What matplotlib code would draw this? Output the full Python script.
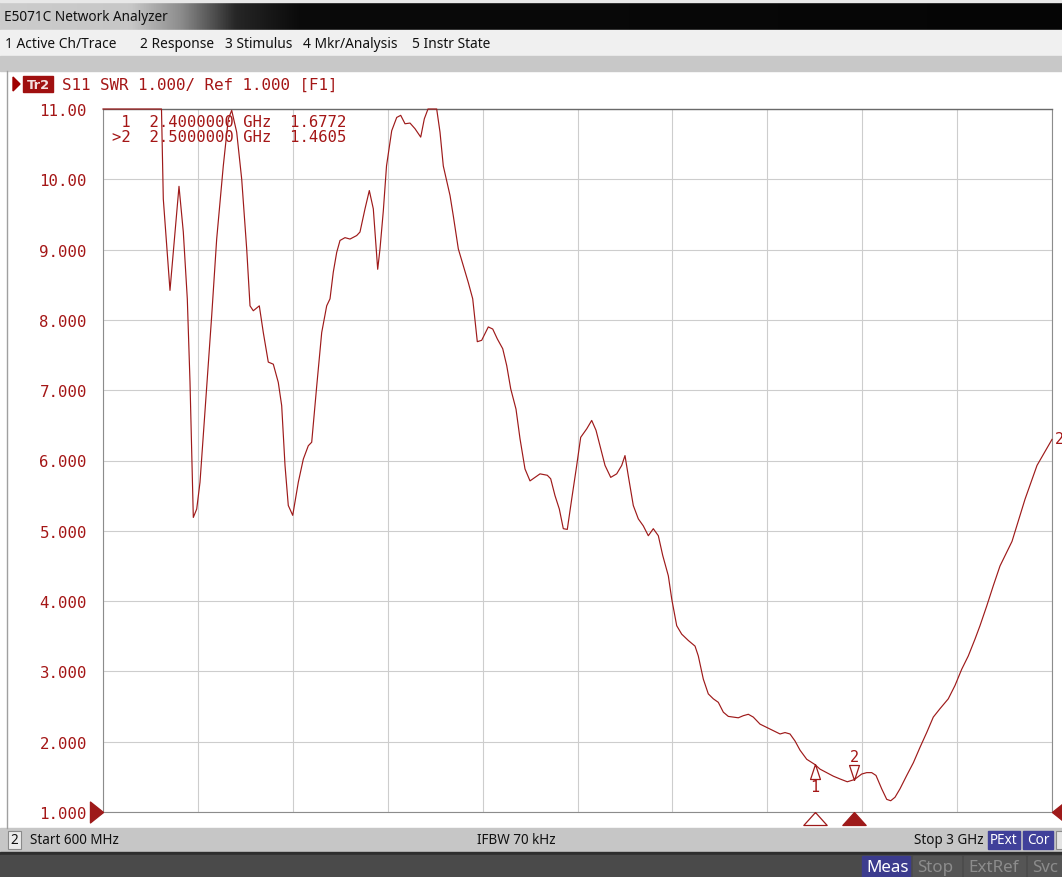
import matplotlib
matplotlib.use("Agg")
import matplotlib.pyplot as plt
import numpy as np
from matplotlib.patches import Rectangle, Polygon

W, H = 1062, 878
DARK_RED = '#9e1a1a'
TEXT_RED = '#a41616'
MONO = 'DejaVu Sans Mono'
UI = 'Noto Sans'

# S11 SWR trace (MHz, SWR); values > 11 are clipped on the display
freq_mhz = [600.0, 668.3, 739.1, 747.9, 752.5, 769.4, 792.2, 803.1, 813.2, 820.0,
            828.4, 837.0, 845.3, 862.3, 874.9, 887.5, 904.2, 916.9, 925.5, 938.1,
            950.8, 963.4, 971.8, 980.1, 995.3, 1005.4, 1018.0, 1030.7, 1043.3, 1051.9,
            1060.3, 1068.6, 1079.8, 1093.9, 1106.6, 1119.2, 1127.8, 1140.5, 1153.1, 1165.7,
            1174.1, 1182.4, 1191.0, 1199.4, 1212.0, 1224.7, 1241.6, 1249.9, 1262.6, 1273.5,
            1283.6, 1294.7, 1300.5, 1308.9, 1317.0, 1330.1, 1342.8, 1352.9, 1363.8, 1376.4,
            1389.0, 1403.5, 1412.6, 1421.9, 1437.1, 1443.9, 1452.3, 1460.6, 1477.6, 1485.9,
            1498.6, 1511.2, 1523.9, 1535.0, 1546.6, 1557.7, 1574.4, 1585.6, 1597.2, 1610.9,
            1621.0, 1631.1, 1644.5, 1654.6, 1667.2, 1679.9, 1692.5, 1705.2, 1723.6, 1732.2,
            1743.1, 1754.0, 1764.1, 1774.2, 1785.3, 1798.0, 1808.1, 1823.3, 1835.9, 1846.8,
            1856.9, 1869.6, 1884.0, 1899.1, 1911.8, 1920.1, 1928.5, 1941.1, 1953.8, 1966.4,
            1979.1, 1991.7, 2004.4, 2015.5, 2029.7, 2038.3, 2050.9, 2063.5, 2080.2, 2097.2,
            2105.5, 2118.2, 2130.8, 2143.5, 2156.1, 2168.8, 2181.4, 2206.7, 2219.3, 2232.0,
            2244.6, 2261.6, 2286.9, 2312.2, 2324.8, 2337.4, 2350.1, 2362.7, 2379.7, 2400.0,
            2413.3, 2430.2, 2446.9, 2463.9, 2482.3, 2500.0, 2518.7, 2531.4, 2544.0, 2554.9,
            2569.3, 2582.0, 2592.1, 2603.0, 2615.6, 2632.6, 2649.3, 2666.2, 2683.1, 2699.8,
            2716.8, 2737.7, 2754.7, 2771.6, 2788.3, 2805.3, 2817.9, 2834.9, 2851.6, 2868.5,
            2898.9, 2931.8, 2962.1, 3000.0]
swr = [12.0, 12.5, 11.5, 11.0, 9.72, 8.42, 9.90, 9.25, 8.30, 7.12,
       5.19, 5.31, 5.69, 7.06, 8.06, 9.15, 10.19, 10.86, 10.98, 10.67,
       10.00, 9.01, 8.20, 8.13, 8.20, 7.82, 7.40, 7.37, 7.11, 6.78,
       5.93, 5.36, 5.22, 5.69, 6.02, 6.21, 6.26, 7.06, 7.82, 8.20,
       8.30, 8.68, 8.96, 9.13, 9.17, 9.15, 9.20, 9.25, 9.58, 9.84,
       9.58, 8.72, 9.01, 9.55, 10.19, 10.69, 10.88, 10.91, 10.79, 10.80,
       10.72, 10.60, 10.86, 11.3, 11.3, 11.0, 10.67, 10.19, 9.77, 9.48,
       9.01, 8.77, 8.53, 8.30, 7.69, 7.71, 7.90, 7.87, 7.73, 7.59,
       7.35, 7.02, 6.73, 6.31, 5.88, 5.71, 5.76, 5.81, 5.79, 5.74,
       5.50, 5.31, 5.03, 5.02, 5.45, 5.93, 6.33, 6.45, 6.57, 6.43,
       6.21, 5.93, 5.76, 5.81, 5.93, 6.07, 5.78, 5.36, 5.17, 5.07,
       4.93, 5.03, 4.93, 4.65, 4.36, 4.03, 3.65, 3.53, 3.44, 3.36,
       3.22, 2.89, 2.68, 2.61, 2.56, 2.42, 2.36, 2.34, 2.37, 2.39,
       2.35, 2.25, 2.18, 2.11, 2.13, 2.11, 2.01, 1.88, 1.75, 1.677,
       1.61, 1.56, 1.51, 1.47, 1.43, 1.4605, 1.54, 1.56, 1.56, 1.52,
       1.33, 1.18, 1.16, 1.21, 1.33, 1.52, 1.70, 1.92, 2.13, 2.35,
       2.47, 2.61, 2.80, 3.03, 3.22, 3.46, 3.65, 3.93, 4.22, 4.50,
       4.85, 5.45, 5.93, 6.30]

marker_ids = ['1', '2']
marker_freq_mhz = [2400.0, 2500.0]
marker_swr = [1.6772, 1.4605]
active_marker = '2'

start_mhz, stop_mhz = 600.0, 3000.0
ref_value = 1.0
y_ticks = [1, 2, 3, 4, 5, 6, 7, 8, 9, 10, 11]

menu_items = ['1 Active Ch/Trace', '2 Response', '3 Stimulus', '4 Mkr/Analysis', '5 Instr State']
menu_x = [5, 140, 225, 303, 412]


def px(v: float) -> float:
    # pixels -> points at dpi 100
    return v * 0.72


def swr_label(v: float) -> str:
    return f"{v:.2f}" if v >= 10 else f"{v:.3f}"


def draw_chrome(bg) -> None:
    bg.set_xlim(0, W)
    bg.set_ylim(H, 0)
    bg.axis('off')

    # title bar with grey -> black gradient
    xs = np.linspace(0, W, 400)
    lvl = np.interp(xs, [0, 130, 180, 235, 300, W], [0.80, 0.78, 0.55, 0.15, 0.04, 0.02])
    grad = np.dstack([lvl, lvl, lvl])
    bg.imshow(grad, extent=(0, W, 31, 3), aspect='auto', zorder=1)
    bg.add_patch(Rectangle((0, 0), W, 3, color='#e8e8e8', zorder=1))
    bg.text(4, 17.5, 'E5071C Network Analyzer', fontsize=px(13.6), family=UI,
            color='#111111', va='center', zorder=2)

    # menu bar + grey band
    bg.add_patch(Rectangle((0, 31), W, 26, color='#f0f0f0', zorder=1))
    for x, s in zip(menu_x, menu_items):
        bg.text(x, 44, s, fontsize=px(13.8), family=UI, color='#111111', va='center', zorder=2)
    bg.add_patch(Rectangle((0, 57), W, 15, color='#c8c8c8', zorder=1))
    bg.plot([7, 7], [72, 829], color='#a0a0a0', lw=1, zorder=2)

    # trace header
    bg.add_patch(Polygon([(13, 78), (20, 85), (13, 92)], closed=True, color='#a00000', zorder=2))
    bg.add_patch(Rectangle((23, 77), 30, 16, color='#a01010', zorder=2))
    bg.text(38, 85.5, 'Tr2', fontsize=px(13), family='DejaVu Sans', weight='bold',
            color='#f4dede', ha='center', va='center', zorder=3)
    bg.text(62, 85.5, 'S11 SWR 1.000/ Ref 1.000 [F1]', fontsize=11.4, family=MONO,
            color=TEXT_RED, va='center', zorder=3)

    # status bar
    bg.add_patch(Rectangle((0, 829), W, 24, color='#c6c6c6', zorder=1))
    bg.add_patch(Rectangle((8, 832), 13, 18, facecolor='#ececec', edgecolor='#8a8a8a', lw=0.8, zorder=2))
    bg.text(14.5, 841, '2', fontsize=px(13.5), family=UI, color='#111111', ha='center', va='center', zorder=3)
    bg.text(30, 841, 'Start 600 MHz', fontsize=px(13.5), family=UI, color='#111111', va='center', zorder=3)
    bg.text(516, 841, 'IFBW 70 kHz', fontsize=px(13.5), family=UI, color='#111111',
            ha='center', va='center', zorder=3)
    bg.text(984, 841, 'Stop 3 GHz', fontsize=px(13.5), family=UI, color='#111111',
            ha='right', va='center', zorder=3)
    for x0, w, s in [(988, 32, 'PExt'), (1023, 30, 'Cor')]:
        bg.add_patch(Rectangle((x0, 832), w, 18, color='#40409a', zorder=2))
        bg.text(x0 + w / 2, 841, s, fontsize=px(13.5), family=UI, color='white',
                ha='center', va='center', zorder=3)
    bg.add_patch(Rectangle((1056, 832), 10, 18, facecolor='#e4e4e4', edgecolor='#8a8a8a', lw=0.8, zorder=2))

    # bottom bar
    bg.add_patch(Rectangle((0, 853), W, 3, color='#2e2e2e', zorder=1))
    bg.add_patch(Rectangle((0, 856), W, 22, color='#4a4a4a', zorder=1))
    for x0, w, s, fc, tc in [(862, 48, 'Meas', '#3c3c8e', 'white'),
                             (913, 48, 'Stop', '#555555', '#8c8c8c'),
                             (964, 61, 'ExtRef', '#555555', '#8c8c8c'),
                             (1028, 50, 'Svc', '#555555', '#8c8c8c')]:
        bg.add_patch(Rectangle((x0, 857), w, 21, color=fc, zorder=2))
        bg.text(x0 + 4, 868, s, fontsize=px(17), family=UI, color=tc, va='center', zorder=3)


def draw_trace(ax) -> None:
    ax.set_facecolor('white')
    ax.set_xlim(start_mhz, stop_mhz)
    ax.set_ylim(y_ticks[0], y_ticks[-1])
    ax.set_xticks(np.linspace(start_mhz, stop_mhz, 11))
    ax.set_xticklabels([])
    ax.set_yticks(y_ticks)
    ax.set_yticklabels([swr_label(v) for v in y_ticks], family=MONO, fontsize=11.3, color=TEXT_RED)
    ax.tick_params(length=0, pad=px(16))
    ax.grid(True, color='#cdcdcd', lw=0.8)
    for side in ['left', 'right', 'bottom']:
        ax.spines[side].set_color('#8c8c8c')
        ax.spines[side].set_linewidth(0.8)
    ax.spines['top'].set_color('#6a6a6a')
    ax.spines['top'].set_linewidth(1.0)

    # display clips the trace at the top graticule line
    shown = np.minimum(np.array(swr), y_ticks[-1])
    ax.plot(freq_mhz, shown, color=DARK_RED, lw=0.85, clip_on=False, zorder=3)

    # marker readout
    lines = []
    for mid, f, v in zip(marker_ids, marker_freq_mhz, marker_swr):
        flag = '>' if mid == active_marker else ' '
        lines.append(f"{flag}{mid}  {f / 1000:.7f} GHz  {v:.4f}")
    for i, s in enumerate(lines):
        ax.annotate(s, xy=(0, 1), xycoords='axes fraction', xytext=(px(9), px(-12.5 - 15.5 * i)),
                    textcoords='offset points', family=MONO, fontsize=11.2, color=TEXT_RED,
                    va='center', zorder=5)

    # markers on the trace
    up_tri = [(0, 0), (-0.33, -1), (0.33, -1), (0, 0)]
    down_tri = [(0, 0), (-0.33, 1), (0.33, 1), (0, 0)]
    for mid, f, v in zip(marker_ids, marker_freq_mhz, marker_swr):
        if mid == active_marker:
            ax.plot([f], [v], marker=down_tri, ms=px(30), mfc='none', mec=DARK_RED, mew=0.9,
                    ls='none', clip_on=False, zorder=4)
            ax.annotate(mid, xy=(f, v), xytext=(0, px(23)), textcoords='offset points',
                        ha='center', va='center', family=MONO, fontsize=11, color=TEXT_RED)
        else:
            ax.plot([f], [v], marker=up_tri, ms=px(30), mfc='none', mec=DARK_RED, mew=0.9,
                    ls='none', clip_on=False, zorder=4)
            ax.annotate(mid, xy=(f, v), xytext=(0, px(-22)), textcoords='offset points',
                        ha='center', va='center', family=MONO, fontsize=11, color=TEXT_RED)

    # marker position indicators below the graticule
    ind = [(0, 0), (-0.9, -1), (0.9, -1), (0, 0)]
    for mid, f in zip(marker_ids, marker_freq_mhz):
        fc = DARK_RED if mid == active_marker else 'white'
        ax.plot([f], [0], marker=ind, ms=px(26), mfc=fc, mec=DARK_RED, mew=0.9, ls='none',
                transform=ax.get_xaxis_transform(), clip_on=False, zorder=4)

    # reference level arrows
    left_arrow = [(0, 0), (-1, 0.8), (-1, -0.8), (0, 0)]
    right_arrow = [(0, 0), (1, 0.8), (1, -0.8), (0, 0)]
    ax.plot([0], [ref_value], marker=left_arrow, ms=px(26), color=DARK_RED, ls='none',
            transform=ax.get_yaxis_transform(), clip_on=False, zorder=4)
    ax.plot([1], [ref_value], marker=right_arrow, ms=px(26), color=DARK_RED, ls='none',
            transform=ax.get_yaxis_transform(), clip_on=False, zorder=4)

    # trace number at the end of the sweep
    ax.annotate('2', xy=(freq_mhz[-1], swr[-1]), xytext=(px(3), px(1)), textcoords='offset points',
                ha='left', va='center', family=MONO, fontsize=11, color=TEXT_RED, annotation_clip=False)


def main():
    fig = plt.figure(figsize=(W / 100, H / 100), dpi=100)
    bg = fig.add_axes([0, 0, 1, 1])
    draw_chrome(bg)

    left, right, top, bottom = 103, 1052, 110, 813
    ax = fig.add_axes([left / W, 1 - bottom / H, (right - left) / W, (bottom - top) / H])
    draw_trace(ax)

    fig.savefig('out.png', dpi=100)


if __name__ == "__main__":
    main()
